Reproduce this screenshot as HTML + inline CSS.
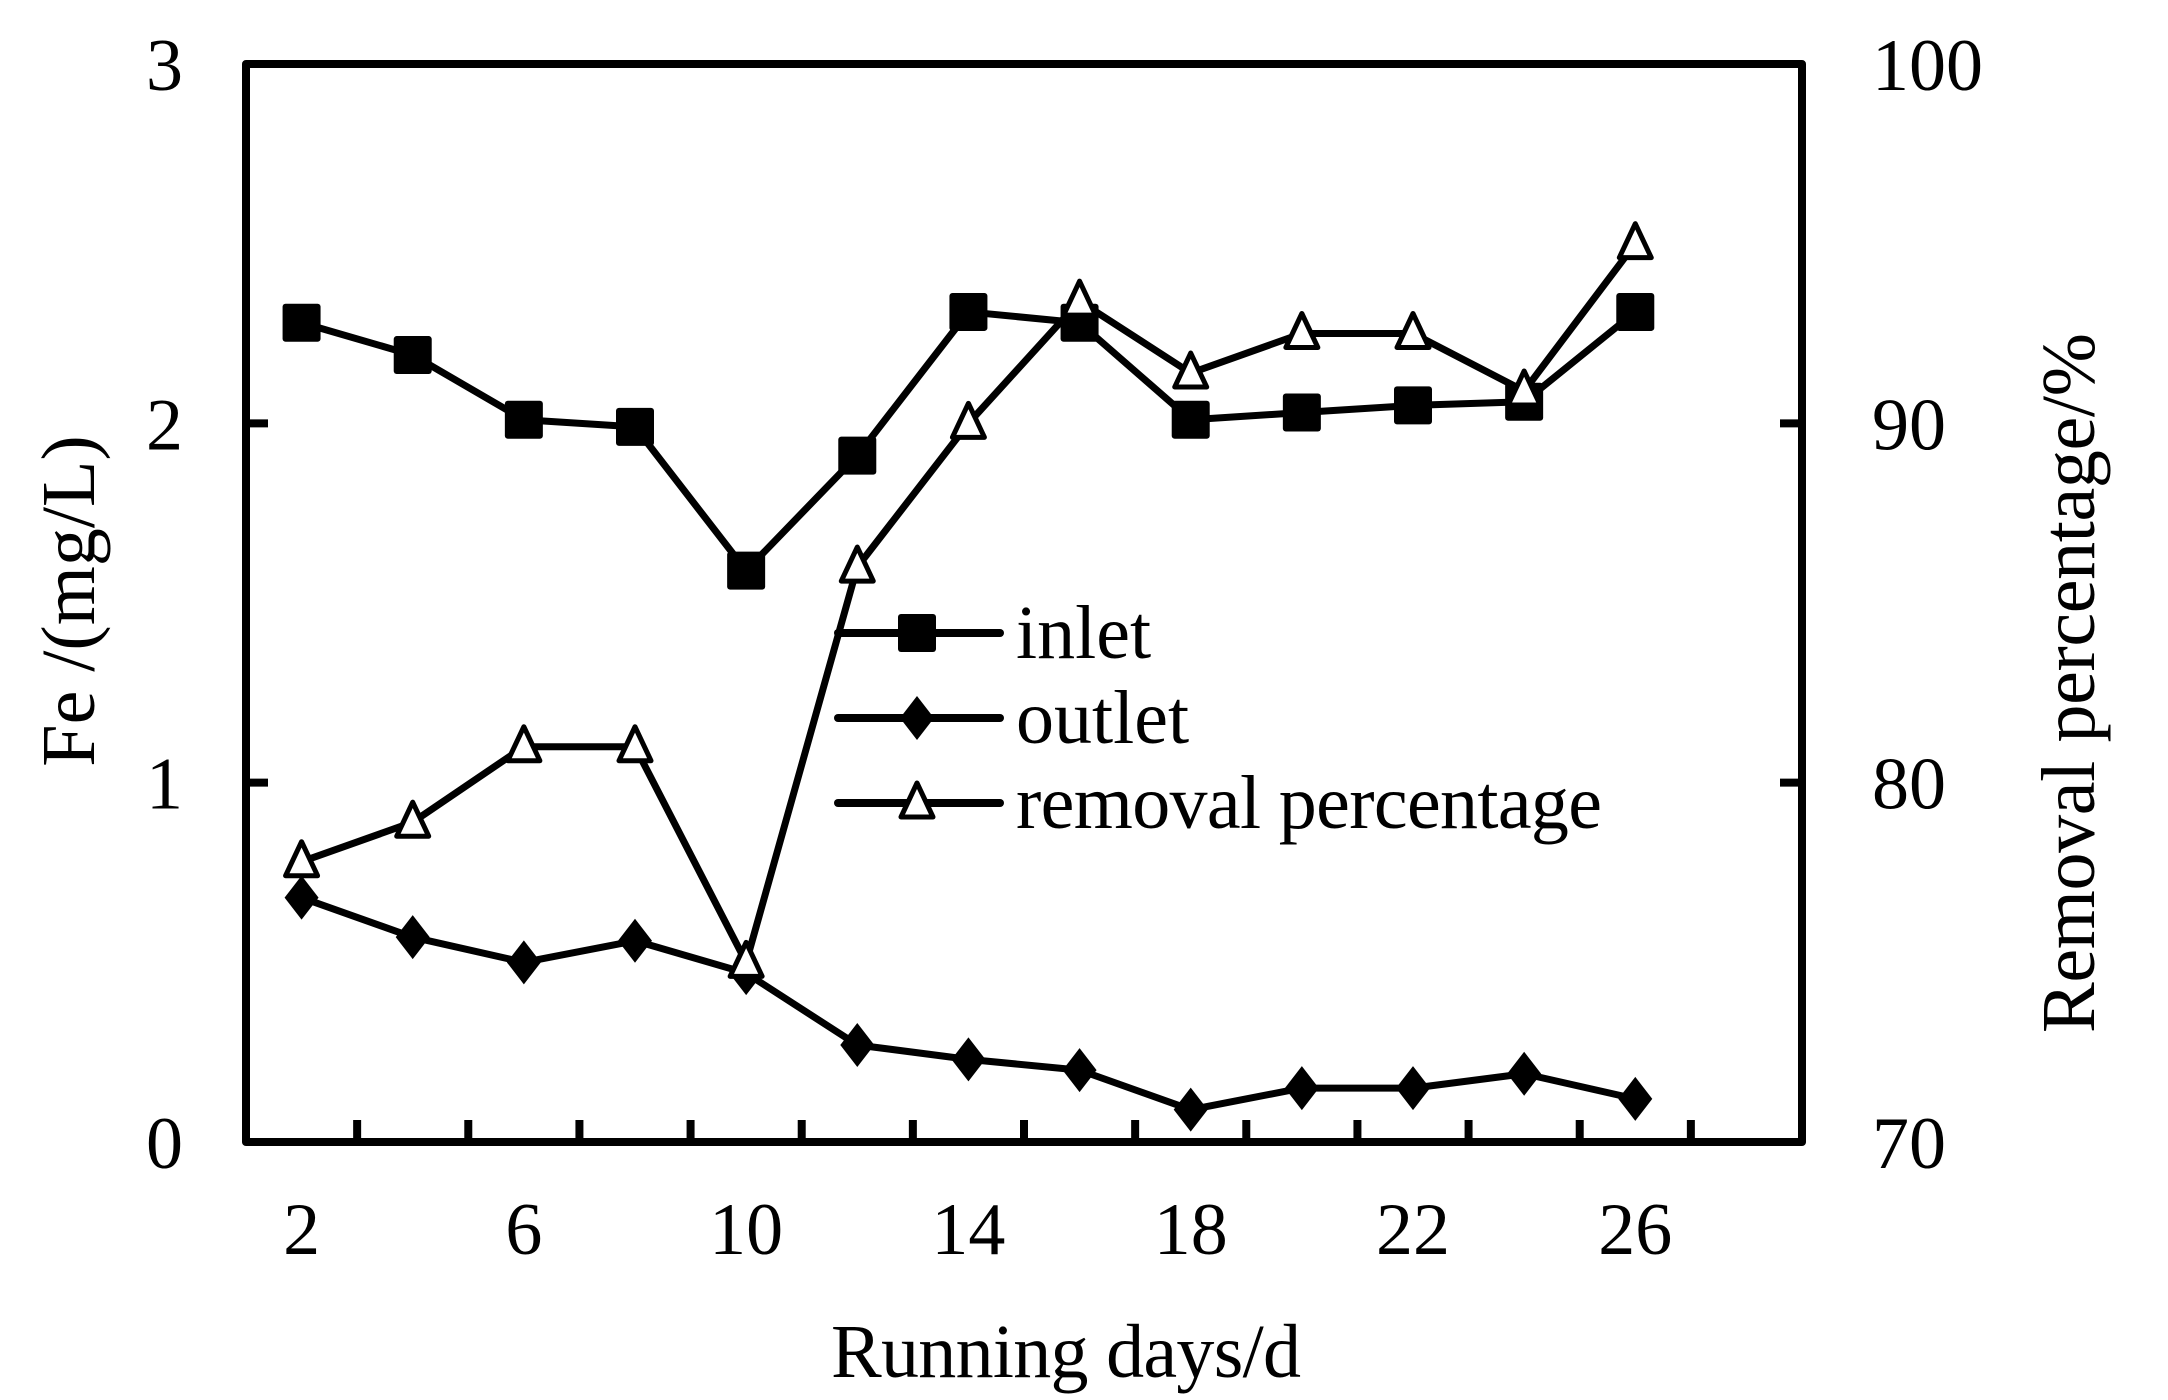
<!DOCTYPE html>
<html><head><meta charset="utf-8"><style>
html,body{margin:0;padding:0;background:#fff;}
svg{display:block;font-family:"Liberation Serif","Times New Roman",serif;}
</style></head><body>
<svg id="chart" width="2168" height="1400" viewBox="0 0 2168 1400" xmlns="http://www.w3.org/2000/svg"></svg>
<script>
const days = [2,4,6,8,10,12,14,16,18,20,22,24,26];
const inletValues = [2.28,2.19,2.01,1.99,1.59,1.91,2.31,2.28,2.01,2.03,2.05,2.06,2.31];
const outletValues = [0.68,0.57,0.50,0.56,0.47,0.27,0.23,0.20,0.09,0.15,0.15,0.19,0.12];
const removalValues = [77.8,78.9,81.0,81.0,75.0,86.0,90.0,93.4,91.4,92.5,92.5,90.9,95.0];
const xTickLabels = [2,6,10,14,18,22,26];
const xMinorTicks = [3,5,7,9,11,13,15,17,19,21,23,25,27];
const leftTickLabels = [0,1,2,3];
const rightTickLabels = [70,80,90,100];

const NS='http://www.w3.org/2000/svg';
const svg=document.getElementById('chart');
const L=246,R=1802,T=64,B=1142;
const X=d=>L+(d-1)*(R-L)/28;
const Y=v=>B-v*(B-T)/3;
const Y2=v=>B-(v-70)*(B-T)/30;
function mk(tag,attrs,parent){const e=document.createElementNS(NS,tag);for(const k in attrs)e.setAttribute(k,attrs[k]);(parent||svg).appendChild(e);return e;}

const frame=mk('rect',{x:L,y:T,width:R-L,height:B-T,fill:'none',stroke:'#000','stroke-width':8,'stroke-linejoin':'round'});



xMinorTicks.forEach(d=>{
  const t=mk('line',{x1:X(d),x2:X(d),y1:B,y2:B-22,stroke:'#000','stroke-width':8});
  
  
});
xTickLabels.forEach(d=>{
  const t=mk('text',{x:X(d),y:1254,'font-size':74,'text-anchor':'middle'});
  t.textContent=d;
  
  
});
leftTickLabels.forEach(v=>{
  const t=mk('text',{x:183,y:Y(v)+26,'font-size':74,'text-anchor':'end'});
  t.textContent=v;
  
  
  if(v>0&&v<3){
    const k=mk('line',{x1:L,x2:L+22,y1:Y(v),y2:Y(v),stroke:'#000','stroke-width':8});
    
    
  }
});
rightTickLabels.forEach(v=>{
  const t=mk('text',{x:1872,y:Y2(v)+26,'font-size':74,'text-anchor':'start'});
  t.textContent=v;
  
  
  if(v>70&&v<100){
    const k=mk('line',{x1:R,x2:R-22,y1:Y2(v),y2:Y2(v),stroke:'#000','stroke-width':8});
    
    
  }
});

let t=mk('text',{x:1066,y:1377,'font-size':76,'text-anchor':'middle',textLength:470});
t.textContent='Running days/d';


t=mk('text',{x:0,y:0,'font-size':76,'text-anchor':'middle',transform:'translate(94,601) rotate(-90)'});
t.textContent='Fe /(mg/L)';


t=mk('text',{x:0,y:0,'font-size':76,'text-anchor':'middle',textLength:700,transform:'translate(2094,683) rotate(-90)'});
t.textContent='Removal percentage/%';



function marker(type,cx,cy,g){
  if(type==='square') return mk('rect',{x:cx-19,y:cy-19,width:38,height:38,rx:3,fill:'#000'},g);
  if(type==='diamond') return mk('polygon',{points:`${cx},${cy-22} ${cx+17},${cy} ${cx},${cy+22} ${cx-17},${cy}`,fill:'#000'},g);
  return mk('polygon',{points:`${cx},${cy-20} ${cx+16},${cy+14} ${cx-16},${cy+14}`,fill:'#fff',stroke:'#000','stroke-width':5,'stroke-linejoin':'round'},g);
}
function series(name,vals,yf,type){
  const g=mk('g',{});
  
  
  const pts=days.map((d,i)=>X(d)+','+yf(vals[i])).join(' ');
  const pl=mk('polyline',{points:pts,fill:'none',stroke:'#000','stroke-width':7,'stroke-linejoin':'round'},g);
  
  
  days.forEach((d,i)=>{
    const m=marker(type,X(d),yf(vals[i]),g);
    
    
  });
}
series('inlet',inletValues,Y,'square');
series('outlet',outletValues,Y,'diamond');
series('removal',removalValues,Y2,'triangle');

const legend=mk('g',{});


[['inlet','square',633],['outlet','diamond',718],['removal percentage','triangle',803]].forEach(([lab,type,y])=>{
  const g=mk('g',{},legend);
  
  
  mk('line',{x1:838,x2:1000,y1:y,y2:y,stroke:'#000','stroke-width':8,'stroke-linecap':'round'},g);
  marker(type,917,y,g);
  const tx=mk('text',{x:1016,y:y+25,'font-size':76},g);
  tx.textContent=lab;
  if(lab==='removal percentage') tx.setAttribute('textLength','586');
  
  
});
</script>
</body></html>
